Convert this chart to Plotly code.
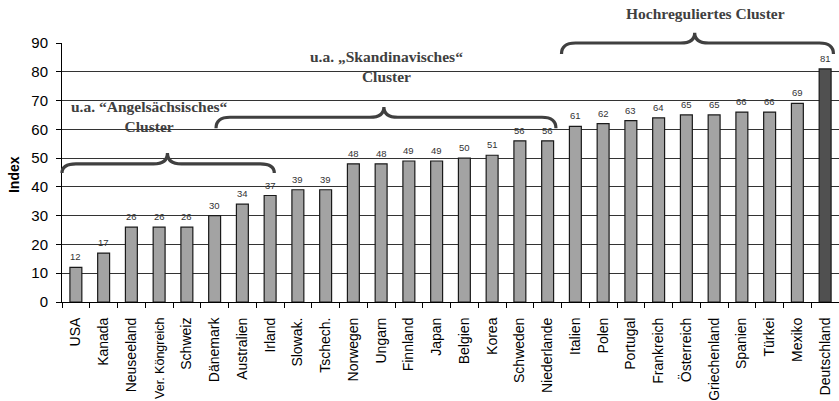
import plotly.graph_objects as go

categories = ["USA", "Kanada", "Neuseeland", "Ver. Köngreich", "Schweiz", "Dänemark",
              "Australien", "Irland", "Slowak.", "Tschech.", "Norwegen", "Ungarn",
              "Finnland", "Japan", "Belgien", "Korea", "Schweden", "Niederlande",
              "Italien", "Polen", "Portugal", "Frankreich", "Österreich", "Griechenland",
              "Spanien", "Türkei", "Mexiko", "Deutschland"]
values = [12, 17, 26, 26, 26, 30, 34, 37, 39, 39, 48, 48, 49, 49, 50, 51, 56, 56,
          61, 62, 63, 64, 65, 65, 66, 66, 69, 81]
highlight = "Deutschland"
condensed_labels = ["Ver. Köngreich"]

y_ticks = [0, 10, 20, 30, 40, 50, 60, 70, 80, 90]
Y_MAX = 90

# cluster braces: (left, tip, right) in category-index units, (end, flat, tip) in value units
clusters = [
    {"label": "u.a. “Angelsächsisches“<br>Cluster", "x": (-0.5, 3.3, 7.15),
     "y": (44.8, 48.0, 51.8), "text_pos": (2.65, 64.3)},
    {"label": "u.a. „Skandinavisches“<br>Cluster", "x": (5.05, 11.1, 17.3),
     "y": (60.4, 64.2, 67.8), "text_pos": (11.2, 82.0)},
    {"label": "Hochreguliertes Cluster", "x": (17.5, 22.3, 27.3),
     "y": (86.2, 90.0, 93.6), "text_pos": (22.7, 100.4)},
]

n = len(categories)
colors = ["#505050" if c == highlight else "#a3a3a3" for c in categories]
tick_text = [f"<span style='font-size:12.5px'>{c}</span>" if c in condensed_labels else c
             for c in categories]

fig = go.Figure()
fig.add_trace(go.Bar(
    x=categories, y=values,
    marker=dict(color=colors, line=dict(color="#1a1a1a", width=1.2)),
    width=0.43,
    hoverinfo="x+y",
))

annotations = []
for c, v in zip(categories, values):
    annotations.append(dict(x=c, y=v, xref="x", yref="y", text=str(v), showarrow=False,
                            yanchor="bottom", yshift=3,
                            font=dict(family="Arial, Liberation Sans", size=9.5, color="#333333")))


def px(i):
    return (i + 0.5) / n


def py(v):
    return v / Y_MAX


shapes = []
for cl in clusters:
    x0, xm, x1 = (px(v) for v in cl["x"])
    ye, yf, yt = (py(v) for v in cl["y"])
    r = 0.018
    path = (f"M {x0},{ye} Q {x0},{yf} {x0 + r},{yf} L {xm - r},{yf} "
            f"Q {xm},{yf} {xm},{yt} Q {xm},{yf} {xm + r},{yf} L {x1 - r},{yf} "
            f"Q {x1},{yf} {x1},{ye}")
    shapes.append(dict(type="path", path=path, xref="paper", yref="paper",
                       line=dict(color="#404040", width=3.2)))
    tx, ty = cl["text_pos"]
    annotations.append(dict(x=px(tx), y=py(ty), xref="paper", yref="paper",
                            text=f"<b>{cl['label']}</b>", showarrow=False, align="center",
                            xanchor="center", yanchor="middle",
                            font=dict(family="Liberation Serif, Times New Roman, serif",
                                      size=15.5, color="#404040")))

annotations.append(dict(x=-0.0618, y=0.494, xref="paper", yref="paper", text="<b>Index</b>",
                        textangle=-90, showarrow=False, xanchor="center", yanchor="middle",
                        font=dict(family="Arial, Liberation Sans", size=14, color="black")))

fig.update_layout(
    width=839, height=401,
    margin=dict(l=62, r=0, t=43, b=99),
    paper_bgcolor="white", plot_bgcolor="white",
    showlegend=False,
    bargap=0.57,
    shapes=shapes,
    annotations=annotations,
    xaxis=dict(
        type="category", range=[-0.5, n - 0.5],
        tickmode="array", tickvals=categories, ticktext=tick_text,
        tickangle=-90, tickson="boundaries", ticks="outside", ticklen=5,
        tickcolor="black", showline=True, linecolor="black", linewidth=1,
        showgrid=False, ticklabelstandoff=9,
        tickfont=dict(family="Arial, Liberation Sans", size=14, color="black"),
        automargin=False,
    ),
    yaxis=dict(
        range=[0, Y_MAX], tickvals=y_ticks, ticks="outside", ticklen=5,
        tickcolor="black", showline=True, linecolor="black", linewidth=1,
        showgrid=True, gridcolor="#333333", gridwidth=1, zeroline=False,
        ticklabelstandoff=5,
        tickfont=dict(family="Arial, Liberation Sans", size=15, color="black"),
        automargin=False,
    ),
)

fig.write_html(
    "out.html",
    config={"displayModeBar": False},
    post_script="document.body.style.margin='0';document.body.style.padding='0';"
                "document.body.style.overflow='hidden';",
)
